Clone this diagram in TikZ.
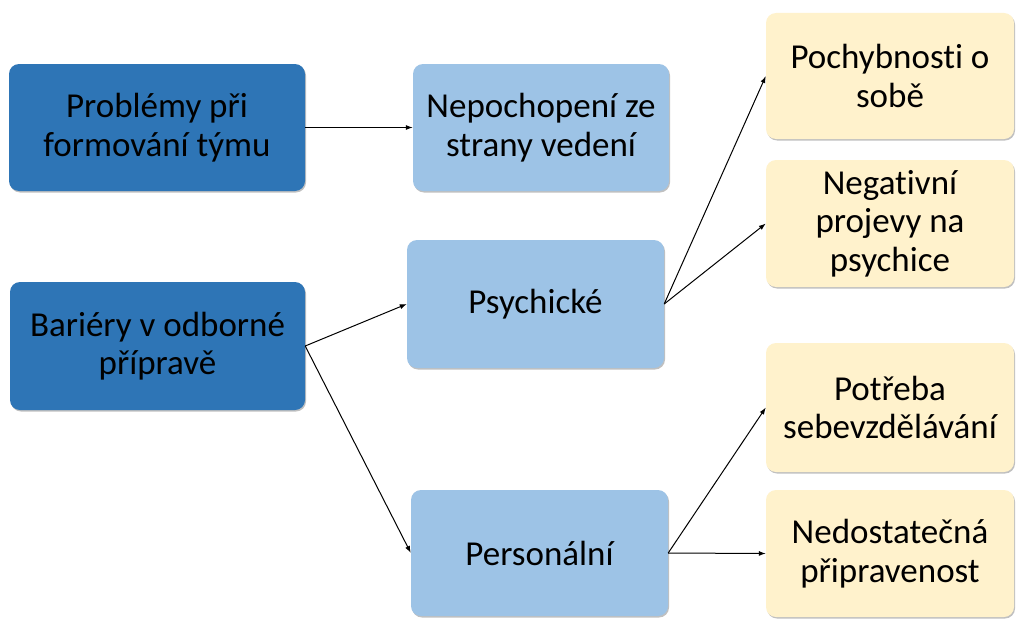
\documentclass[tikz,border=0pt]{standalone}
\usepackage{fontspec}
\setmainfont{Carlito}[Ligatures=NoCommon]
\usetikzlibrary{arrows.meta,shadows}
\definecolor{darkblue}{HTML}{2E75B6}
\definecolor{lightblue}{HTML}{9DC3E6}
\definecolor{cream}{HTML}{FFF2CC}
\tikzset{
  box/.style={rounded corners=10pt, inner sep=0pt, align=center,
    font=\fontsize{35}{38.5}\selectfont,
    drop shadow={shadow xshift=1pt, shadow yshift=-1.5pt, opacity=0.35, fill=black!70}},
  mainbox/.style={box, fill=darkblue},
  subbox/.style={box, fill=lightblue},
  leafbox/.style={box, fill=cream},
  link/.style={-{Latex[length=7pt,width=5pt]}, line width=1pt, black},
}
\begin{document}
\begin{tikzpicture}[x=1pt,y=-1pt]
\useasboundingbox (0,0) rectangle (1016,618);
\fill[white] (0,0) rectangle (1016,618);
% left column
\node[mainbox, minimum width=296pt, minimum height=127pt] (form) at (157,127.5)
  {Problémy při\\formování týmu};
\node[mainbox, minimum width=295pt, minimum height=128pt] (bar) at (157.5,346)
  {Bariéry v odborné\\přípravě};
% middle column
\node[subbox, minimum width=256pt, minimum height=127pt] (vedeni) at (541,127.5)
  {Nepochopení ze\\strany vedení};
\node[subbox, minimum width=257pt, minimum height=128pt] (psych) at (535.5,304)
  {Psychické};
\node[subbox, minimum width=257pt, minimum height=126pt] (pers) at (539.5,553)
  {Personální};
% right column
\node[leafbox, minimum width=248pt, minimum height=126pt] (poch) at (890,76)
  {Pochybnosti o\\sobě};
\node[leafbox, minimum width=248pt, minimum height=127pt] (neg) at (890,223.5)
  {Negativní\\projevy na\\psychice};
\node[leafbox, minimum width=248pt, minimum height=129pt] (potr) at (890,407.5)
  {Potřeba\\sebevzdělávání};
\node[leafbox, minimum width=248pt, minimum height=127pt] (nedo) at (890,553.5)
  {Nedostatečná\\připravenost};
% connectors
\draw[link] (form.east) -- (vedeni.west);
\draw[link] (bar.east) -- (psych.west);
\draw[link] (bar.east) -- (pers.west);
\draw[link] (psych.east) -- (poch.west);
\draw[link] (psych.east) -- (neg.west);
\draw[link] (pers.east) -- (potr.west);
\draw[link] (pers.east) -- (nedo.west);
\end{tikzpicture}
\end{document}
